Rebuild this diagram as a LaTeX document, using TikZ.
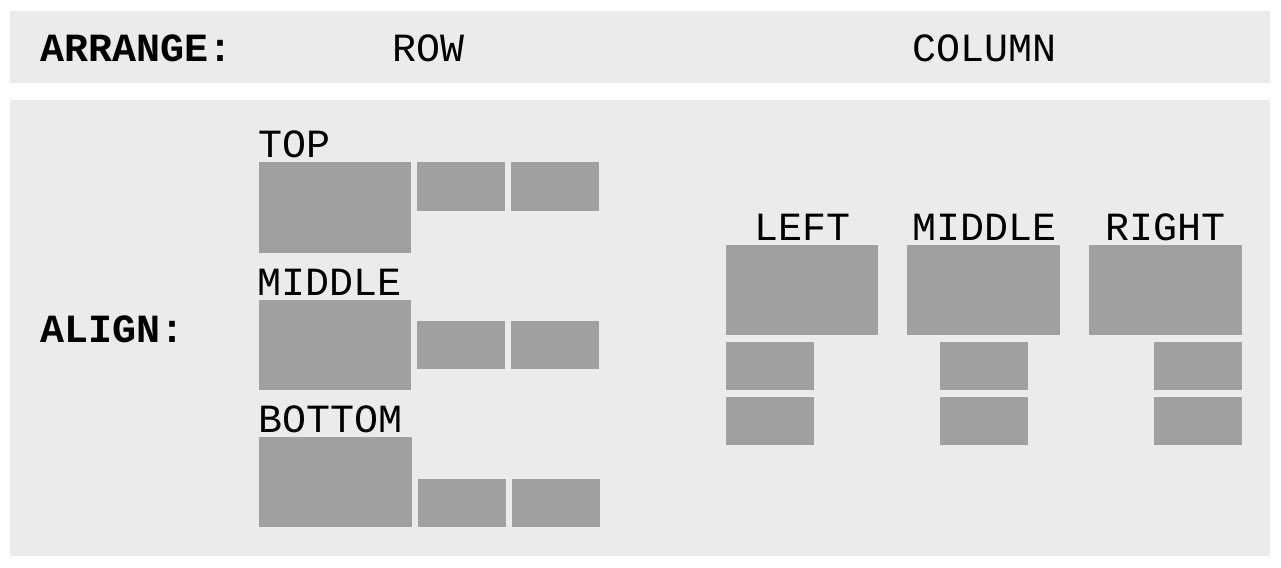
\documentclass[tikz,border=0pt]{standalone}
\usepackage{fontspec}
\setmonofont{Liberation Mono}
\begin{document}
\begin{tikzpicture}[x=1pt,y=-1pt,
  band/.style={fill=bandgray},
  blk/.style={fill=blkgray},
  lbl/.style={inner sep=0pt,font=\ttfamily\fontsize{40}{48}\selectfont,text=black},
  hdr/.style={lbl,font=\ttfamily\bfseries\fontsize{40}{48}\selectfont}]
\definecolor{bandgray}{HTML}{EBEBEB}
\definecolor{blkgray}{HTML}{A0A0A0}
\useasboundingbox[fill=white] (0,0) rectangle (1281,567);
% bands
\fill[band] (10,11) rectangle (1270,83);
\fill[band] (10,100) rectangle (1270,556);
% header texts
\node[hdr,anchor=base west] (arrange) at (40,62) {ARRANGE:};
\node[lbl,anchor=base] (row) at (428,62) {ROW};
\node[lbl,anchor=base] (column) at (984,62) {COLUMN};
\node[hdr,anchor=base west] (align) at (40,342) {ALIGN:};
% row: top
\node[lbl,anchor=base west] (ltop) at (258,157) {TOP};
\fill[blk] (259,162) rectangle (411,253);
\fill[blk] (417,162) rectangle (505,211);
\fill[blk] (511,162) rectangle (599,211);
% row: middle
\node[lbl,anchor=base west] (lmid) at (257,295) {MIDDLE};
\fill[blk] (259,300) rectangle (411,390);
\fill[blk] (417,321) rectangle (505,369);
\fill[blk] (511,321) rectangle (599,369);
% row: bottom
\node[lbl,anchor=base west] (lbot) at (258,432) {BOTTOM};
\fill[blk] (259,437) rectangle (412,527);
\fill[blk] (418,479) rectangle (506,527);
\fill[blk] (512,479) rectangle (600,527);
% column: left
\node[lbl,anchor=base] (cleft) at (802,240) {LEFT};
\fill[blk] (726,245) rectangle (878,335);
\fill[blk] (726,342) rectangle (814,390);
\fill[blk] (726,397) rectangle (814,445);
% column: middle
\node[lbl,anchor=base] (cmid) at (984,240) {MIDDLE};
\fill[blk] (907,245) rectangle (1060,335);
\fill[blk] (940,342) rectangle (1028,390);
\fill[blk] (940,397) rectangle (1028,445);
% column: right
\node[lbl,anchor=base] (cright) at (1165,240) {RIGHT};
\fill[blk] (1089,245) rectangle (1242,335);
\fill[blk] (1154,342) rectangle (1242,390);
\fill[blk] (1154,397) rectangle (1242,445);
\end{tikzpicture}
\end{document}
